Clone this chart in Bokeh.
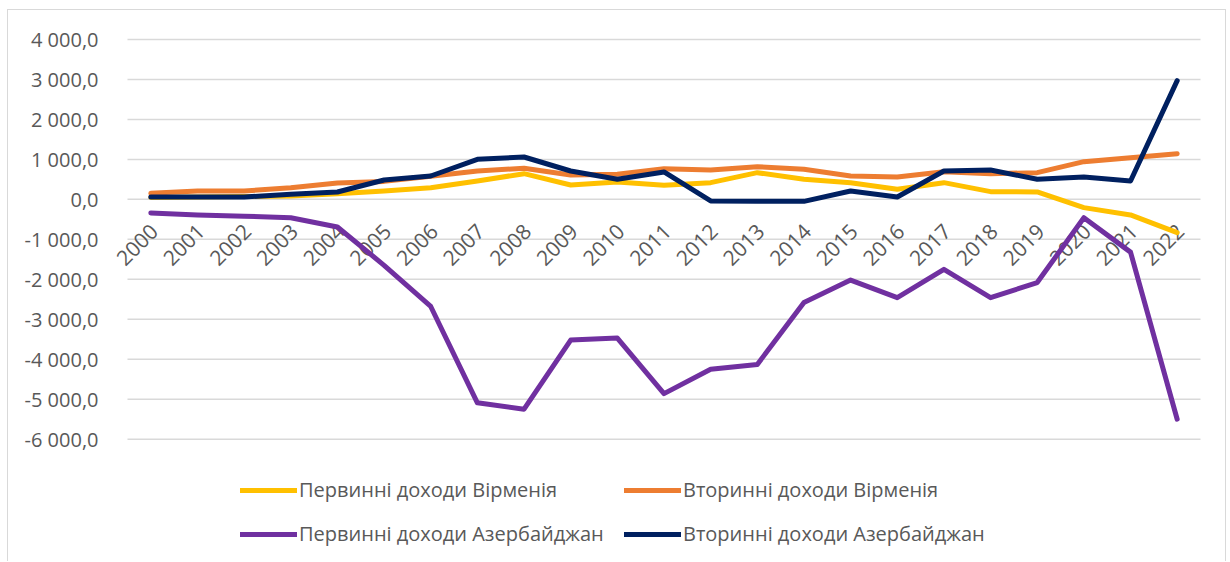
import math
from bokeh.plotting import figure
from bokeh.models import (Legend, LegendItem, FixedTicker, Range1d, FactorRange,
                          ColumnDataSource)
from bokeh.transform import dodge
from bokeh.core.properties import value
from bokeh.embed import file_html
from bokeh.resources import INLINE

years = ["2000", "2001", "2002", "2003", "2004", "2005", "2006", "2007", "2008", "2009",
         "2010", "2011", "2012", "2013", "2014", "2015", "2016", "2017", "2018", "2019",
         "2020", "2021", "2022"]

primary_arm = [50, 60, 70, 85, 143, 210, 293, 460, 643, 360, 435, 352, 418, 668, 503,
               418, 252, 418, 193, 185, -207, -390, -833]
secondary_arm = [152, 210, 210, 293, 410, 450, 580, 710, 778, 610, 627, 768, 735, 818, 753,
                 585, 560, 693, 643, 668, 943, 1043, 1143]
primary_az = [-340, -390, -420, -460, -690, -1650, -2680, -5090, -5250, -3520, -3470, -4860,
              -4250, -4130, -2580, -2020, -2460, -1750, -2460, -2080, -460, -1320, -5500]
secondary_az = [60, 60, 60, 127, 185, 485, 585, 1003, 1060, 710, 503, 685, -40, -45, -50,
                210, 60, 710, 735, 503, 560, 460, 2970]

series_names = ["Первинні доходи Вірменія", "Вторинні доходи Вірменія",
                "Первинні доходи Азербайджан", "Вторинні доходи Азербайджан"]
series_colors = ["#FFC000", "#ED7D31", "#7030A0", "#002060"]

y_ticks = [-6000, -5000, -4000, -3000, -2000, -1000, 0, 1000, 2000, 3000, 4000]
y_tick_labels = ["-6 000,0", "-5 000,0", "-4 000,0", "-3 000,0", "-2 000,0", "-1 000,0",
                 "0,0", "1 000,0", "2 000,0", "3 000,0", "4 000,0"]
axis_cross = 0

FONT = "Open Sans"
TXT = "#595959"
BORDER = "1px solid #d9d9d9"

p = figure(width=1219, height=552, output_backend="svg", toolbar_location=None,
           x_range=FactorRange(factors=years, range_padding=0.45,
                               range_padding_units="absolute"),
           y_range=Range1d(-8835, 4050),
           min_border_left=98, min_border_right=6, min_border_top=27, min_border_bottom=10)
p.styles = {"border-left": BORDER, "border-top": BORDER, "border-right": BORDER,
            "margin-left": "7px", "margin-top": "9px"}
p.outline_line_color = None
p.background_fill_color = "white"
p.border_fill_color = "white"

p.xaxis.visible = False
p.xgrid.grid_line_color = None
p.ygrid.grid_line_color = None

# horizontal gridlines spanning the category band only
grid_src = ColumnDataSource(dict(x0=[years[0]] * len(y_ticks), x1=[years[-1]] * len(y_ticks),
                                 y=y_ticks))
p.segment(x0=dodge("x0", -0.5, range=p.x_range), x1=dodge("x1", 0.5, range=p.x_range),
          y0="y", y1="y", source=grid_src, line_color="#d9d9d9", line_width=1.5)

p.yaxis.ticker = FixedTicker(ticks=y_ticks)
p.yaxis.major_label_overrides = {t: l for t, l in zip(y_ticks, y_tick_labels)}
p.yaxis.axis_line_color = None
p.yaxis.major_tick_line_color = None
p.yaxis.minor_tick_line_color = None
p.yaxis.major_label_standoff = 2
p.yaxis.major_label_text_font = FONT
p.yaxis.major_label_text_font_size = "20px"
p.yaxis.major_label_text_color = TXT

# category labels at the axis crossing (y = 0), rotated 45 degrees, beneath the series
p.text(x=years, y=[axis_cross] * len(years), text=years, angle=math.pi / 4,
       text_align="right", text_baseline="middle", x_offset=3, y_offset=28,
       text_font=value(FONT), text_font_size="21px", text_color=TXT)

renderers = []
for vals, col in zip([primary_arm, secondary_arm, primary_az, secondary_az], series_colors):
    r = p.line(years, vals, line_color=col, line_width=5, line_join="round", line_cap="round")
    renderers.append(r)

order = [0, 2, 1, 3]  # legend fills column by column
legend = Legend(items=[LegendItem(label=series_names[i], renderers=[renderers[i]]) for i in order],
                ncols=2, location=(134, 5), orientation="vertical")
legend.label_text_font = FONT
legend.label_text_font_size = "20px"
legend.label_text_color = TXT
legend.glyph_width = 57
legend.label_standoff = 2
legend.label_width = 308
legend.spacing = 17
legend.padding = 0
legend.margin = 0
legend.border_line_color = None
legend.background_fill_alpha = 0
p.add_layout(legend, "center")

open("out.html", "w").write(file_html(p, INLINE))
